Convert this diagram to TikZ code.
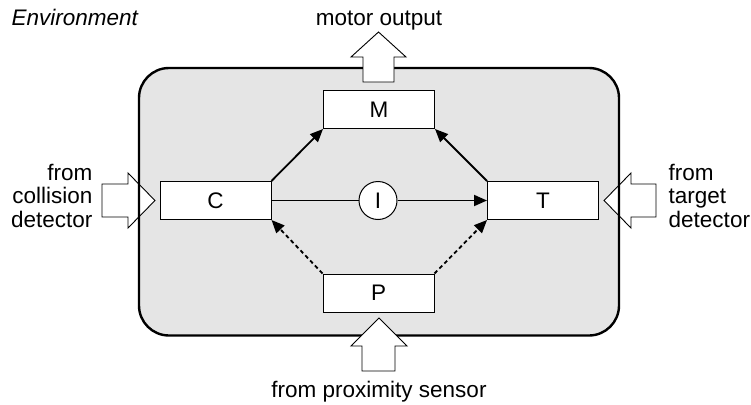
\documentclass[tikz,border=0pt]{standalone}
\usepackage{fontspec}
\setmainfont{Liberation Sans}
\usetikzlibrary{arrows.meta}
\begin{document}
\begin{tikzpicture}[x=1pt,y=-1pt,
  every node/.style={font=\fontsize{22.5}{23.5}\selectfont},
  unit/.style={draw=black,line width=1pt,fill=white,minimum width=111pt,minimum height=38pt,inner sep=0pt},
  inter/.style={draw=black,line width=1pt,fill=white,circle,minimum size=38pt,inner sep=0pt},
  outerfill/.style={fill=black!10,rounded corners=30pt},
  outerline/.style={draw=black,line width=2.4pt,rounded corners=30pt},
  hollow/.style={draw=black,line width=0.9pt,fill=white,line join=miter},
  link/.style={line width=1.8pt,-{Triangle[length=13pt,width=11pt]}},
  dlink/.style={link,dash pattern=on 4pt off 3pt}
]
\useasboundingbox (0,0) rectangle (751,404);
\fill[outerfill] (139,68) rectangle (619,335.5);
% left and right input arrows (under the border line)
\draw[hollow] (155,200.5) -- (128,173) -- (128,184) -- (102,184) -- (102,217) -- (128,217) -- (128,228) -- cycle;
\draw[hollow] (604,200.5) -- (631,173) -- (631,184) -- (656,184) -- (656,217) -- (631,217) -- (631,228) -- cycle;
\draw[outerline] (139,68) rectangle (619,335.5);
% top output arrow (over border)
\draw[hollow] (378.5,32) -- (351,57) -- (363,57) -- (363,82) -- (394,82) -- (394,57) -- (406,57) -- cycle;
% bottom input arrow (over border)
\draw[hollow] (379,318) -- (351,346) -- (362,346) -- (362,371) -- (395,371) -- (395,346) -- (407,346) -- cycle;
\node[unit] (M) at (379,109.5) {M};
\node[unit] (C) at (215.5,200.5) {C};
\node[unit] (T) at (543,200.5) {T};
\node[unit] (P) at (378.5,293) {P};
\node[inter] (I) at (378,200.5) {I};
\draw[link] (C.north east) -- (M.south west);
\draw[link] (T.north west) -- (M.south east);
\draw[line width=1.8pt] (C.east) -- (I.west);
\draw[link] (I.east) -- (T.west);
\draw[dlink] (P.north west) -- (C.south east);
\draw[dlink] (P.north east) -- (T.south west);
\node[anchor=base west,font=\fontsize{22.5}{23.5}\selectfont\itshape] (env) at (8,26) {Environment};
\node[anchor=base] (mo) at (379,26) {motor output};
\node[anchor=base] (fp) at (379,397) {from proximity sensor};
\node[anchor=north east,align=right,inner sep=0pt] (fc) at (92.5,164) {from\\collision\\detector};
\node[anchor=north west,align=left,inner sep=0pt] (ft) at (668.5,164) {from\\target\\detector};
\end{tikzpicture}
\end{document}
